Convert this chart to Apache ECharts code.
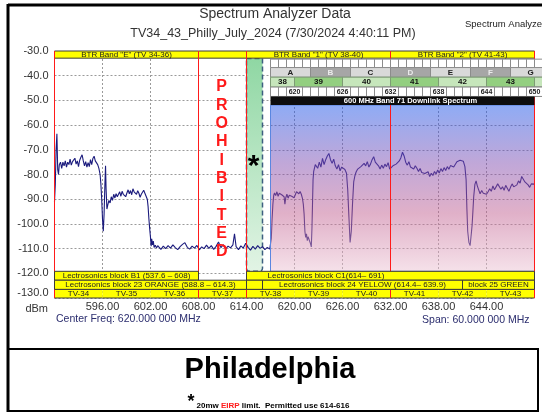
<!DOCTYPE html>
<html>
<head>
<meta charset="utf-8">
<script src="https://cdn.jsdelivr.net/npm/echarts@6/dist/echarts.min.js"></script>
<style>
html, body { margin: 0; padding: 0; background: #fff; }
#chart { width: 542px; height: 412px; }
</style>
</head>
<body>
<div id="chart"></div>
<script>
// trace: [MHz, dBm]
var trace = [
  [590.0,-91],[590.1,-84],[590.2,-70],[590.3,-63.5],[590.4,-78],[590.5,-80],[590.6,-76],[590.75,-75],[590.9,-77.5],
  [591.05,-75],[591.2,-76.5],[591.35,-74.5],[591.5,-77],[591.65,-75],[591.8,-76],[591.95,-73.8],[592.1,-76.2],
  [592.25,-74.8],[592.4,-75.6],[592.55,-73.4],[592.7,-75.8],[592.85,-74.5],[593.0,-76.8],[593.15,-74.2],[593.3,-73],
  [593.45,-72],[593.6,-74.5],[593.75,-76.5],[593.9,-74.8],[594.05,-77],[594.2,-75.2],[594.35,-76.8],[594.5,-74],
  [594.65,-76],[594.8,-73.5],[594.95,-72.6],[595.1,-74.5],[595.25,-73.8],[595.4,-76],[595.55,-77.5],[595.7,-80],
  [595.8,-84],[595.9,-90],[596.0,-98],[596.1,-103],[596.2,-96],[596.3,-84],[596.38,-76.5],[596.45,-86],[596.55,-94],
  [596.65,-92.5],[596.8,-90.5],[596.95,-91.5],[597.1,-89],[597.25,-90.5],[597.4,-88],[597.55,-89.5],[597.7,-87.8],
  [597.85,-89],[598.0,-88.2],[598.15,-87],[598.3,-88.8],[598.45,-86.8],[598.6,-88],[598.75,-87.2],[598.9,-89],
  [599.05,-87.5],[599.2,-86.2],[599.35,-87.8],[599.5,-86.5],[599.65,-88.2],[599.8,-85.8],[599.95,-87],[600.1,-86.2],
  [600.25,-88],[600.4,-86.6],[600.55,-87.6],[600.7,-89.2],[600.85,-88],[601.0,-87.2],[601.15,-86.4],[601.3,-87.6],
  [601.45,-88.8],[601.6,-90],[601.7,-93],[601.8,-98],[601.9,-102],[602.0,-105.5],[602.08,-109],[602.15,-106],
  [602.25,-108.5],[602.35,-107],[602.45,-109.5],[602.6,-108.6],[602.75,-109.8],[602.9,-108.8],
  [603.0,-109.5],[603.3,-110.3],[603.6,-109],[603.9,-110],[604.2,-108.8],[604.5,-109.8],[604.8,-108.5],[605.1,-109.6],
  [605.4,-110.4],[605.7,-109.2],[606.0,-108.3],[606.3,-107.6],[606.6,-109.5],[606.9,-110.2],[607.2,-109],[607.5,-109.8],
  [607.8,-108.7],[608.1,-110.5],[608.4,-109.3],[608.7,-110],[609.0,-108.6],[609.3,-109.9],[609.6,-108.8],[609.9,-110.3],
  [610.2,-109.1],[610.5,-107.3],[610.8,-109.6],[611.1,-108.4],[611.4,-110.1],[611.7,-109],[612.0,-109.7],[612.3,-108.5],
  [612.5,-104],[612.7,-109.2],[613.0,-110.4],[613.3,-108.9],[613.6,-109.8],[613.9,-107.8],[614.2,-109.5],[614.5,-110.6],
  [614.8,-109.1],[615.1,-110.2],[615.4,-108.8],[615.7,-109.9],[616.0,-109.2],[616.3,-110.4],[616.6,-109.5],[616.9,-110.2],
  [617.1,-106],[617.2,-98],[617.3,-92],[617.4,-88.5],[617.5,-87.5],[617.65,-88.5],[617.8,-87],[617.95,-88.8],
  [618.1,-87.6],[618.25,-86.8],[618.4,-88.2],[618.55,-87.4],[618.7,-89],[618.8,-92],[618.9,-89.5],[619.05,-88],
  [619.2,-89.6],[619.35,-88.4],[619.5,-87.6],[619.65,-88.8],[619.8,-88],[619.95,-89.4],[620.1,-88.2],[620.25,-87],
  [620.4,-86.5],[620.55,-87.8],[620.7,-86.9],[620.85,-88],[621.0,-89.8],[621.1,-92],[621.2,-96],[621.3,-103],
  [621.4,-105.5],[621.5,-104],[621.6,-106.8],[621.7,-105.2],[621.8,-104.5],[621.9,-106],[622.0,-108],[622.1,-109.3],
  [622.18,-102],[622.25,-92],[622.32,-82],[622.4,-78.7],[622.6,-76],[622.9,-77.5],[623.1,-75],[623.3,-77],
  [623.5,-73.5],[623.7,-76],[623.9,-74],[624.1,-72.5],[624.3,-71.5],[624.5,-74],[624.7,-75.5],[624.9,-73.8],
  [625.1,-76.5],[625.3,-77.8],[625.5,-76],[625.7,-78.5],[625.9,-77],[626.1,-76.2],[626.3,-78],[626.5,-79.5],
  [626.65,-86],[626.8,-97],[626.95,-107.5],[627.1,-103],[627.25,-92],[627.4,-83],[627.55,-80.5],[627.7,-79],
  [627.9,-77.8],[628.1,-78.5],[628.3,-76.8],[628.5,-77.5],[628.7,-75.5],[628.9,-76.5],[629.1,-74.8],[629.3,-77],
  [629.5,-75.8],[629.7,-74],[629.9,-72.8],[630.1,-75],[630.3,-74.2],[630.5,-76.5],[630.7,-77.8],[630.9,-76.2],
  [631.1,-77.5],[631.3,-75.8],[631.5,-76.8],[631.7,-75.2],[631.9,-77.8],[632.1,-78.5],[632.3,-76.5],[632.5,-77.2],
  [632.7,-75.8],[632.9,-76.6],[633.1,-74.5],[633.3,-73.2],[633.5,-71],[633.7,-72.5],[633.9,-75],[634.1,-76.2],
  [634.3,-74.8],[634.5,-77],[634.7,-76.2],[634.9,-77.8],[635.1,-76.5],[635.3,-77.5],[635.5,-78.8],[635.7,-77.6],
  [635.9,-79.2],[636.1,-78.5],[636.3,-79.6],[636.5,-80.2],[636.7,-78.9],[636.9,-80.8],[637.1,-79.5],[637.3,-80.4],
  [637.5,-78.8],[637.7,-79.8],[637.9,-78.2],[638.1,-79.4],[638.3,-77.6],[638.5,-78.8],[638.7,-77.2],[638.9,-78.4],
  [639.1,-76.8],[639.3,-77.9],[639.5,-76.4],[639.7,-75.8],[639.9,-77],[640.1,-76.2],[640.3,-74.8],[640.5,-75.6],
  [640.7,-74.2],[640.9,-73.6],[641.1,-74.6],[641.3,-76.8],[641.45,-82],[641.55,-94],[641.65,-103],[641.8,-107.5],
  [641.95,-108.8],[642.1,-104],[642.2,-100.5],[642.3,-95],[642.4,-89],[642.55,-84],[642.7,-82.6],[642.85,-84.6],
  [643.0,-86],[643.2,-87.8],[643.4,-86.5],[643.6,-87.6],[643.8,-86.8],[644.0,-88],[644.2,-87],[644.4,-85.8],
  [644.6,-86.8],[644.8,-84.6],[645.0,-86.2],[645.2,-85.4],[645.4,-83.8],[645.6,-84.5],[645.8,-86],[646.0,-85],
  [646.2,-86.4],[646.4,-84.4],[646.6,-85.6],[646.8,-86.8],[647.0,-85.2],[647.2,-83.8],[647.4,-85],[647.6,-85.8],
  [647.8,-84.2],[648.0,-82.6],[648.2,-83.5],[648.4,-80.8],[648.6,-81.6],[648.8,-83],[649.0,-82.2],[649.2,-84.2],
  [649.4,-85.2],[649.6,-83.8],[649.8,-84.4],[650.0,-83.9]
];

// band bars: [from MHz, to MHz, label]
var btrBands = [[590, 608, 'BTR Band "E" (TV 34-36)'], [608, 614, ''], [614, 632, 'BTR Band "1" (TV 38-40)'], [632, 650, 'BTR Band "2" (TV 41-43)']];
var lectroWide = [[590, 608, 'Lectrosonics block B1 (537.6 \u2013 608)'], [614, 650, 'Lectrosonics block C1(614\u2013 691)']];
var lectroBlocks = [[590, 614, 'Lectrosonics block 23 ORANGE (588.8 \u2013 614.3)'], [614, 616, ''], [616, 641, 'Lectrosonics block 24 YELLOW (614.4\u2013 639.9)'], [641, 650, 'block 25 GREEN']];
var tvChannels = [[590, 596, 'TV-34'], [596, 602, 'TV-35'], [602, 608, 'TV-36'], [608, 614, 'TV-37'], [614, 620, 'TV-38'], [620, 626, 'TV-39'], [626, 632, 'TV-40'], [632, 638, 'TV-41'], [638, 644, 'TV-42'], [644, 650, 'TV-43']];
var redLines = [590, 608, 614, 632, 650];
var permittedBand = [[614, 616]];
var band71 = [[617, 650, '']];
var band71Head = [[617, 650, '600 MHz Band 71 Downlink Spectrum']];
var band71Blocks = [[617, 622, 'A'], [622, 627, 'B'], [627, 632, 'C'], [632, 637, 'D'], [637, 642, 'E'], [642, 647, 'F'], [647, 652, 'G']];
var band71Tv = [[617, 620, '38'], [620, 626, '39'], [626, 632, '40'], [632, 638, '41'], [638, 644, '42'], [644, 650, '43'], [650, 652, '']];
var mhzCells = [617, 618, 619, 620, 621, 622, 623, 624, 625, 626, 627, 628, 629, 630, 631, 632, 633, 634, 635, 636, 637, 638, 639, 640, 641, 642, 643, 644, 645, 646, 647, 648, 649, 650];
var freqMarks = [620, 626, 632, 638, 644, 650];
var prohibited = 'PROHIBITED'.split('');

var SANS = '"Liberation Sans", Arial, sans-serif';

// one row of rectangles between two dBm levels
function rowSeries(items, top, bottom, z, look) {
  return {
    type: 'custom', z: z, silent: true, clip: false,
    data: items.map(function (d) { return [d[0], d[1], top, bottom]; }),
    encode: { x: [0, 1], y: [2, 3] },
    renderItem: function (params, api) {
      var d = items[params.dataIndex];
      var st = look(d, params.dataIndex);
      var a = api.coord([d[0], top]);
      var b = api.coord([d[1], bottom]);
      var kids = [{
        type: 'rect',
        shape: { x: a[0], y: a[1], width: b[0] - a[0], height: b[1] - a[1], r: st.r || 0 },
        style: { fill: st.fill, stroke: st.stroke || null, lineWidth: st.lineWidth || 1, lineDash: st.lineDash || null }
      }];
      if (st.edges) {
        kids.push({ type: 'line', shape: { x1: a[0], y1: a[1], x2: b[0], y2: a[1] }, style: { stroke: st.edges, lineWidth: 1 } });
        kids.push({ type: 'line', shape: { x1: a[0], y1: b[1], x2: b[0], y2: b[1] }, style: { stroke: st.edges, lineWidth: 1 } });
      }
      if (d[2]) {
        kids.push({
          type: 'text',
          style: {
            text: d[2],
            x: st.align === 'left' ? a[0] + st.pad : (a[0] + b[0]) / 2 + (st.dx || 0),
            y: (a[1] + b[1]) / 2 + (st.dy || 0),
            align: st.align || 'center', verticalAlign: 'middle',
            fill: st.color || '#222', font: st.font
          }
        });
      }
      return { type: 'group', children: kids };
    }
  };
}

var yellowBar = function () { return { fill: '#ffff00', stroke: '#3a3a3a', font: '8px ' + SANS }; };

var chart = echarts.init(document.getElementById('chart'));

var option = {
  animation: false,
  textStyle: { fontFamily: SANS },
  grid: { left: 54.5, right: 7.5, top: 51, bottom: 114, outerBoundsMode: 'none' },
  xAxis: {
    type: 'value', min: 590, max: 650, interval: 6,
    axisLine: { show: false }, axisTick: { show: false },
    axisLabel: {
      formatter: function (v) { return v.toFixed(2); },
      color: '#333', fontSize: 11, margin: 3, showMinLabel: false, showMaxLabel: false
    },
    splitLine: { show: true, lineStyle: { color: '#9a9a9a', type: [2, 2], width: 1 } }
  },
  yAxis: {
    type: 'value', min: -130, max: -30, interval: 10,
    axisLine: { show: false }, axisTick: { show: false },
    axisLabel: {
      formatter: function (v) { return v.toFixed(1); },
      color: '#333', fontSize: 11, margin: 6, verticalAlignMinLabel: 'bottom'
    },
    splitLine: { show: true, lineStyle: { color: '#9a9a9a', type: [2, 2], width: 1 } }
  },
  series: [
    // 614-616 permitted slot
    rowSeries(permittedBand, -33, -119.2, 1, function () {
      return {
        fill: new echarts.graphic.LinearGradient(0, 0, 0, 1, [
          { offset: 0, color: '#8fd7a3' }, { offset: 1, color: '#e2f4e5' }
        ]),
        stroke: '#3d5f80', lineWidth: 1.5, lineDash: [5, 3], r: [0, 0, 3, 3]
      };
    }),
    {
      type: 'line', name: 'Spectrum Analyzer', data: trace, z: 2,
      showSymbol: false, symbol: 'none', silent: true,
      lineStyle: { color: '#1b1b7d', width: 1.1 }
    },
    // band 71 shaded area, see-through
    rowSeries(band71, -51.9, -119.2, 3, function () {
      return {
        fill: new echarts.graphic.LinearGradient(0, 0, 0, 1, [
          { offset: 0, color: 'rgba(30,88,235,0.5)' },
          { offset: 0.35, color: 'rgba(130,80,178,0.5)' },
          { offset: 0.65, color: 'rgba(194,98,146,0.5)' },
          { offset: 1, color: 'rgba(236,196,212,0.5)' }
        ]),
        stroke: '#5a86e0'
      };
    }),
    rowSeries(btrBands, -30, -32.9, 4, yellowBar),
    rowSeries(tvChannels, -126.5, -130, 4, function () {
      return { fill: '#ffff00', edges: '#3a3a3a', font: '8px ' + SANS, dy: 0.5 };
    }),
    {
      type: 'custom', z: 5, silent: true, clip: false,
      data: redLines.map(function (f) { return [f, -30, -130]; }),
      encode: { x: 0, y: [1, 2] },
      renderItem: function (params, api) {
        var a = api.coord([redLines[params.dataIndex], -30]);
        var b = api.coord([redLines[params.dataIndex], -130]);
        return { type: 'line', shape: { x1: a[0], y1: a[1], x2: b[0], y2: b[1] }, style: { stroke: '#ff1a1a', lineWidth: 1 } };
      }
    },
    rowSeries(lectroWide, -119.2, -122.8, 6, function (d, i) {
      var st = yellowBar();
      if (i === 1) { st.align = 'left'; st.pad = 21; }
      return st;
    }),
    rowSeries(lectroBlocks, -122.8, -126.5, 6, yellowBar),
    // band 71 chart header
    rowSeries(mhzCells.map(function (f) { return [f, f + 1, '']; }), -33.3, -36.7, 7, function () {
      return { fill: '#ffffff', stroke: '#8c8c8c' };
    }),
    rowSeries(band71Blocks, -36.7, -40.6, 7, function (d, i) {
      return {
        fill: i % 2 ? '#a6a6a6' : '#d9d9d9', stroke: '#8c8c8c',
        color: i % 2 ? '#ececec' : '#222', font: 'bold 8px ' + SANS
      };
    }),
    rowSeries(band71Tv, -40.6, -44.6, 7, function (d, i) {
      return { fill: i % 2 ? '#93cf80' : '#c6e6bb', stroke: '#7d9c74', color: '#111', font: 'bold 8px ' + SANS };
    }),
    rowSeries(mhzCells.map(function (f) { return [f, f + 1, '']; }), -44.6, -48.4, 7, function () {
      return { fill: '#ffffff', stroke: '#8c8c8c' };
    }),
    rowSeries(freqMarks.map(function (f) { return [f - 1, f + 1, String(f)]; }), -44.6, -48.4, 7, function () {
      return { fill: '#ffffff', stroke: '#8c8c8c', color: '#222', font: 'bold 7px ' + SANS };
    }),
    rowSeries(band71Head, -48.4, -51.9, 7, function () {
      return { fill: '#0d0d0d', color: '#ffffff', font: 'bold 7.5px ' + SANS, dx: 8 };
    }),
    {
      type: 'custom', z: 8, silent: true, clip: false,
      data: prohibited.map(function (c, i) { return [610.9, -44.5 - i * 7.42]; }),
      encode: { x: 0, y: 1 },
      renderItem: function (params, api) {
        var p = api.coord([api.value(0), api.value(1)]);
        return {
          type: 'text',
          style: {
            text: prohibited[params.dataIndex], x: p[0], y: p[1], align: 'center', verticalAlign: 'middle',
            fill: '#ff1a1a', font: 'bold 16px ' + SANS
          }
        };
      }
    },
    {
      type: 'custom', z: 8, silent: true, clip: false,
      data: [[614.9, -77]],
      encode: { x: 0, y: 1 },
      renderItem: function (params, api) {
        var p = api.coord([api.value(0), api.value(1)]);
        return {
          type: 'text',
          style: { text: '*', x: p[0], y: p[1], align: 'center', verticalAlign: 'middle', fill: '#000', font: 'bold 30px ' + SANS }
        };
      }
    }
  ],
  graphic: [
    { type: 'line', shape: { x1: 8, y1: 5, x2: 542, y2: 5 }, style: { stroke: '#000', lineWidth: 3 } },
    { type: 'line', shape: { x1: 8, y1: 4, x2: 8, y2: 412 }, style: { stroke: '#000', lineWidth: 3 } },
    { type: 'line', shape: { x1: 8, y1: 349, x2: 539, y2: 349 }, style: { stroke: '#000', lineWidth: 2 } },
    { type: 'line', shape: { x1: 538, y1: 348, x2: 538, y2: 412 }, style: { stroke: '#000', lineWidth: 2 } },
    { type: 'line', shape: { x1: 8, y1: 411, x2: 539, y2: 411 }, style: { stroke: '#000', lineWidth: 2 } },
    { type: 'text', x: 275, y: 14.5, style: { text: 'Spectrum Analyzer Data', font: '14px ' + SANS, fill: '#333', align: 'center', verticalAlign: 'middle' } },
    { type: 'text', x: 273, y: 33.5, style: { text: 'TV34_43_Philly_July_2024 (7/30/2024 4:40:11 PM)', font: '12.5px ' + SANS, fill: '#333', align: 'center', verticalAlign: 'middle' } },
    { type: 'text', x: 465, y: 24, style: { text: 'Spectrum Analyzer', font: '9.5px ' + SANS, fill: '#222', align: 'left', verticalAlign: 'middle' } },
    { type: 'text', x: 48, y: 309, style: { text: 'dBm', font: '11px ' + SANS, fill: '#333', align: 'right', verticalAlign: 'middle' } },
    { type: 'text', x: 56, y: 319.5, style: { text: 'Center Freq: 620.000 000 MHz', font: '10.5px ' + SANS, fill: '#2b2d6e', align: 'left', verticalAlign: 'middle' } },
    { type: 'text', x: 529.5, y: 320, style: { text: 'Span: 60.000 000 MHz', font: '10.5px ' + SANS, fill: '#2b2d6e', align: 'right', verticalAlign: 'middle' } },
    { type: 'text', x: 270, y: 370, style: { text: 'Philadelphia', font: 'bold 29px ' + SANS, fill: '#000', align: 'center', verticalAlign: 'middle' } },
    { type: 'text', x: 191, y: 402, style: { text: '*', font: 'bold 18px ' + SANS, fill: '#000', align: 'center', verticalAlign: 'middle' } },
    {
      type: 'text', x: 196.5, y: 406,
      style: {
        text: '{a|20mw }{r|EIRP}{a| limit.  Permitted use 614-616}',
        align: 'left', verticalAlign: 'middle',
        rich: {
          a: { font: 'bold 8px ' + SANS, fill: '#000' },
          r: { font: 'bold 8px ' + SANS, fill: '#ff1a1a' }
        }
      }
    }
  ]
};

chart.setOption(option);
</script>
</body>
</html>
